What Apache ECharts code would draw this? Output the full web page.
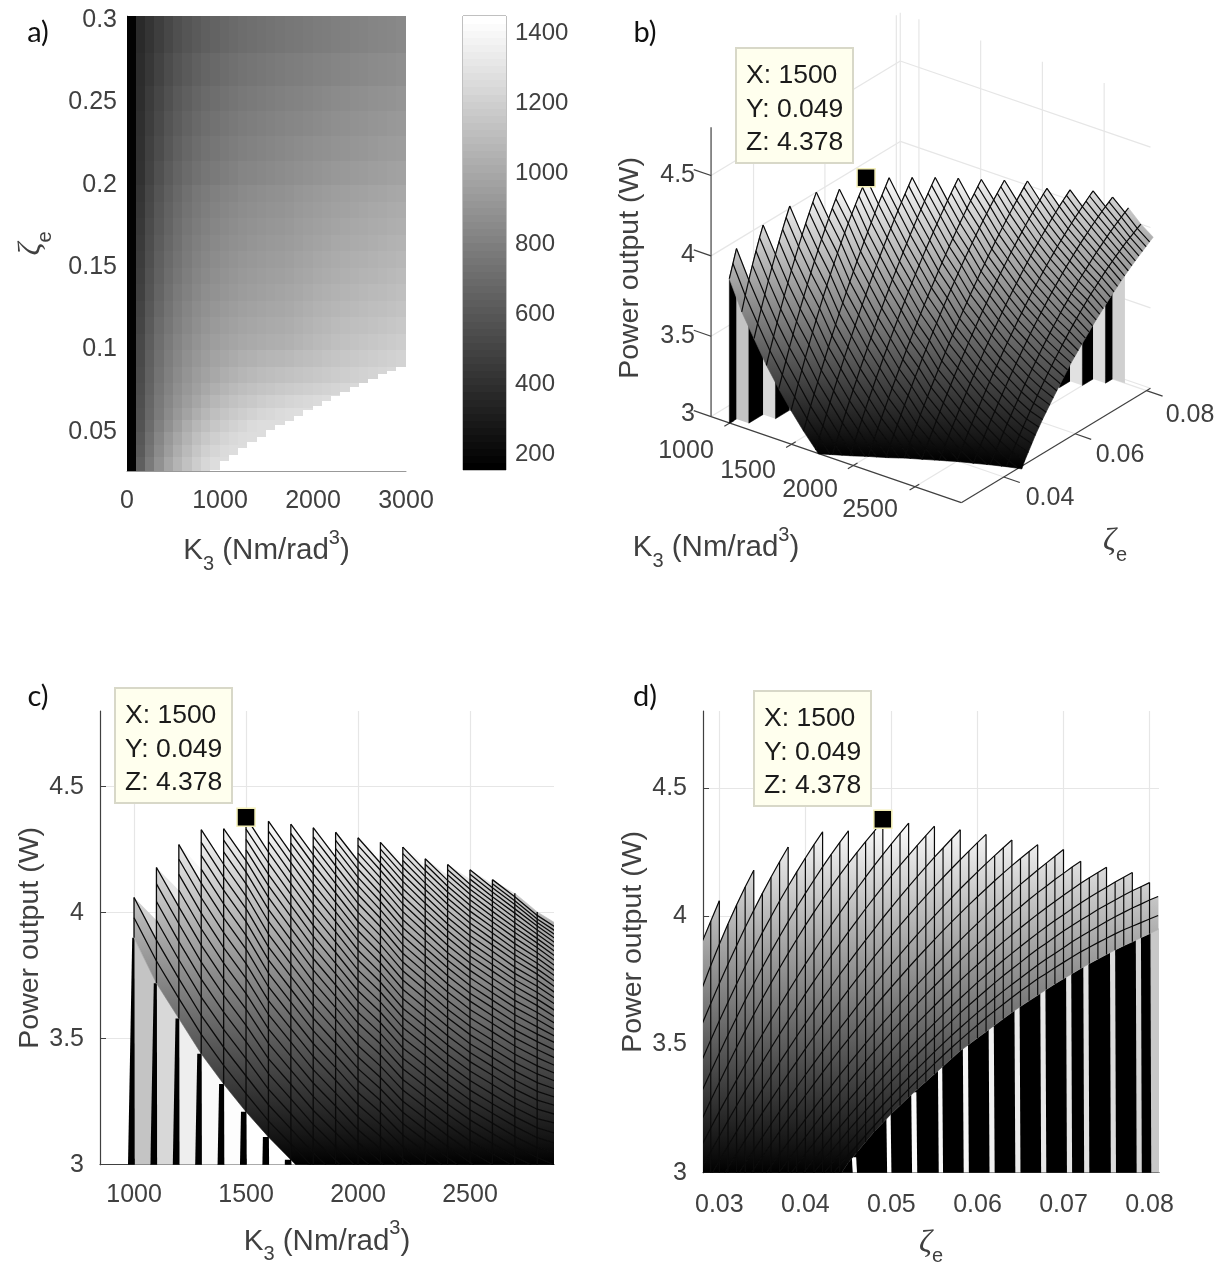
<!DOCTYPE html>
<html><head><meta charset="utf-8"><style>html,body{margin:0;padding:0;background:#fff;overflow:hidden}#c{width:1222px;height:1269px}</style>
<script src="https://cdn.jsdelivr.net/npm/echarts@6/dist/echarts.min.js"></script></head><body><div id="c"></div>
<script>
// ---------- panel a: heat map ----------
const heatKStep = 100;
const heatEdges = [.0263,.035,.0425,.05,.0575,.065,.0725,.08,.09,.10,.11,.12,.13,.14,.15,.16,.17,.18,.19,.20,.215,.23,.245,.26,.28,.3024];
const heatValues = [
[160,637,774,891,993,1069,1136,1197,1247,1280,1280],
[160,612,745,860,955,1035,1100,1160,1210,1245,1270,1280,1280,1280],
[160,595,722,835,925,1000,1065,1125,1170,1205,1235,1260,1275,1280,1280],
[160,578,700,805,888,960,1030,1085,1125,1165,1195,1220,1245,1270,1280,1280,1280,1280],
[160,566,685,782,860,925,985,1040,1085,1125,1155,1180,1200,1222,1240,1255,1270,1280,1285,1285,1285],
[160,555,672,767,840,900,952,1000,1045,1085,1115,1140,1160,1178,1195,1210,1222,1235,1248,1260,1270,1280,1285,1285],
[160,545,660,752,822,880,928,970,1008,1045,1075,1100,1120,1135,1150,1163,1175,1187,1198,1208,1218,1228,1237,1247,1256,1265,1275,1285,1290,1295],
[160,535,648,738,806,860,905,945,980,1010,1037,1060,1080,1095,1108,1120,1130,1140,1152,1163,1173,1183,1193,1203,1212,1222,1232,1242,1252,1262],
[160,527,637,724,790,842,885,922,955,982,1005,1025,1042,1055,1067,1078,1087,1097,1110,1122,1133,1144,1155,1165,1175,1185,1195,1205,1215,1225],
[165,520,627,713,774,825,866,902,932,958,978,993,1008,1019,1029,1039,1044,1054,1069,1085,1100,1110,1125,1136,1146,1156,1166,1176,1186,1197],
[165,507,612,696,756,807,848,883,912,938,958,973,988,999,1009,1019,1024,1034,1049,1064,1079,1089,1103,1113,1123,1133,1143,1152,1162,1173],
[165,493,597,679,739,789,829,864,893,918,938,953,968,979,989,999,1005,1015,1029,1043,1057,1067,1081,1091,1101,1110,1120,1128,1138,1148],
[165,481,583,663,723,772,812,847,875,899,919,934,950,960,970,980,987,997,1011,1024,1038,1048,1061,1070,1080,1088,1098,1107,1117,1126],
[165,468,569,648,706,755,796,829,857,881,901,916,931,942,952,962,969,979,992,1005,1018,1028,1041,1049,1060,1067,1077,1085,1095,1103],
[165,458,557,635,693,741,782,815,842,866,886,901,916,927,937,947,954,964,977,990,1002,1012,1024,1032,1043,1050,1060,1067,1077,1085],
[165,447,544,621,678,726,767,799,826,849,869,884,899,910,920,930,938,948,960,973,984,994,1006,1013,1024,1031,1041,1047,1057,1064],
[165,437,533,608,665,713,753,785,811,834,854,869,884,895,905,915,923,933,945,957,968,978,990,996,1007,1013,1023,1029,1039,1046],
[165,427,522,595,652,699,739,771,797,819,839,854,869,880,890,900,909,919,930,941,952,962,973,979,990,996,1006,1012,1022,1028],
[165,417,511,582,639,685,725,757,782,803,823,838,854,864,874,884,893,903,915,925,936,946,957,962,973,978,988,994,1004,1009],
[165,404,492,561,616,661,700,731,756,777,797,812,828,838,848,858,868,878,888,898,908,918,928,933,944,949,959,964,973,979],
[165,397,478,543,597,641,679,708,733,754,774,789,805,815,825,835,845,855,865,875,885,894,904,909,919,924,934,940,948,955],
[165,391,465,527,579,623,658,687,712,733,753,768,784,794,804,814,824,834,843,853,863,871,881,886,897,902,912,917,925,932],
[165,385,452,512,562,605,639,667,692,713,733,748,764,774,784,794,804,814,822,832,842,850,860,865,875,880,890,896,903,911],
[165,377,436,491,540,582,614,641,666,686,707,722,737,748,758,768,778,788,794,805,815,821,831,836,846,851,861,867,873,882],
[165,368,418,469,515,556,586,612,637,657,678,693,708,719,729,739,749,759,764,775,785,790,800,805,815,820,830,836,841,851]
];
const whiteStartK = 900;
const whiteTop = [.0268,.0320,.0356,.0397,.0437,.0468,.0507,.0538,.0562,.0596,.0628,.0657,.0687,.0718,.0738,.0767,.0795,.0819,.0847,.0868,.0890];
const colorbarTicks = [200,400,600,800,1000,1200,1400];

// ---------- panels b,c,d: surface, one array per K; first value at zeta = zetaFirst, step zetaStep ----------
const zetaFirst = .028, zetaStep = .001;
const kValues = [1000,1100,1200,1300,1400,1500,1600,1700,1800,1900,2000,2100,2200,2300,2400,2500,2600,2700,2800,2900];
const P1000=[3.9,3.98,4.06];
const P1100=[3.72,3.808,3.891,3.97,4.044,4.114,4.179];
const P1200=[3.58,3.66,3.738,3.813,3.885,3.956,4.023,4.089,4.152,4.212,4.27];
const P1300=[3.44,3.517,3.592,3.665,3.736,3.804,3.871,3.936,3.998,4.059,4.117,4.173,4.227,4.279,4.329];
const P1400=[3.32,3.394,3.466,3.537,3.605,3.672,3.737,3.8,3.861,3.921,3.979,4.035,4.089,4.141,4.192,4.241,4.288,4.333];
const P1500=[3.21,3.282,3.352,3.421,3.488,3.553,3.617,3.679,3.739,3.798,3.855,3.91,3.964,4.016,4.066,4.114,4.161,4.206,4.249,4.291,4.331,4.378];
const P1600=[3.11,3.174,3.238,3.3,3.361,3.421,3.481,3.539,3.596,3.651,3.706,3.76,3.813,3.864,3.915,3.965,4.013,4.061,4.107,4.152,4.197,4.24,4.282,4.323,4.363];
const P1700=[3.02,3.082,3.142,3.202,3.261,3.319,3.375,3.431,3.486,3.54,3.593,3.645,3.697,3.747,3.796,3.845,3.892,3.939,3.984,4.029,4.072,4.115,4.157,4.198,4.237,4.276,4.314,4.351];
const P1800=[2.93,2.989,3.047,3.104,3.16,3.216,3.271,3.324,3.377,3.43,3.481,3.532,3.581,3.63,3.679,3.726,3.773,3.818,3.863,3.907,3.95,3.993,4.034,4.075,4.115,4.154,4.192,4.23,4.266,4.302,4.337];
const P1900=[2.85,2.907,2.963,3.019,3.073,3.127,3.18,3.233,3.284,3.335,3.385,3.434,3.483,3.53,3.577,3.623,3.668,3.713,3.757,3.799,3.842,3.883,3.924,3.964,4.003,4.041,4.078,4.115,4.151,4.186,4.22,4.254,4.287,4.319];
const P2000=[2.77,2.825,2.879,2.932,2.985,3.037,3.088,3.139,3.189,3.238,3.286,3.334,3.381,3.427,3.473,3.518,3.562,3.605,3.648,3.69,3.731,3.772,3.812,3.851,3.89,3.928,3.965,4.001,4.037,4.072,4.107,4.14,4.173,4.205,4.236,4.267,4.297];
const P2100=[2.7,2.754,2.807,2.86,2.912,2.963,3.013,3.063,3.112,3.16,3.208,3.255,3.301,3.346,3.391,3.435,3.479,3.521,3.563,3.605,3.645,3.685,3.724,3.762,3.8,3.837,3.873,3.909,3.944,3.978,4.011,4.044,4.076,4.107,4.138,4.168,4.197,4.225,4.252,4.279];
const P2200=[2.63,2.682,2.733,2.783,2.833,2.882,2.93,2.978,3.025,3.072,3.118,3.163,3.208,3.252,3.296,3.338,3.381,3.422,3.463,3.504,3.544,3.583,3.621,3.659,3.696,3.733,3.769,3.804,3.839,3.873,3.907,3.94,3.972,4.004,4.035,4.065,4.095,4.124,4.152,4.18,4.207,4.234,4.26];
const P2300=[2.56,2.612,2.663,2.714,2.763,2.813,2.862,2.909,2.957,3.004,3.05,3.095,3.139,3.183,3.227,3.269,3.311,3.352,3.393,3.433,3.472,3.51,3.548,3.585,3.622,3.658,3.694,3.728,3.762,3.795,3.828,3.86,3.891,3.922,3.952,3.981,4.01,4.037,4.065,4.092,4.117,4.143,4.167,4.192,4.214];
const P2400=[2.5,2.551,2.602,2.652,2.702,2.75,2.798,2.845,2.892,2.938,2.984,3.028,3.072,3.115,3.158,3.2,3.241,3.282,3.321,3.361,3.399,3.437,3.475,3.512,3.548,3.583,3.617,3.651,3.685,3.717,3.75,3.781,3.811,3.841,3.871,3.9,3.928,3.955,3.981,4.008,4.033,4.057,4.082,4.105,4.128,4.15,4.17,4.191];
const P2500=[2.44,2.491,2.542,2.591,2.641,2.689,2.737,2.784,2.83,2.876,2.921,2.966,3.009,3.052,3.094,3.137,3.178,3.218,3.257,3.296,3.334,3.372,3.409,3.445,3.48,3.516,3.549,3.583,3.616,3.649,3.68,3.711,3.742,3.771,3.8,3.828,3.855,3.882,3.908,3.934,3.959,3.983,4.006,4.029,4.051,4.073,4.093,4.113,4.133,4.152,4.17];
const P2600=[2.39,2.441,2.491,2.542,2.59,2.639,2.686,2.733,2.779,2.825,2.87,2.914,2.957,3.001,3.043,3.084,3.124,3.165,3.204,3.242,3.28,3.318,3.355,3.39,3.426,3.46,3.494,3.527,3.56,3.591,3.623,3.653,3.682,3.711,3.74,3.768,3.794,3.82,3.847,3.872,3.895,3.919,3.942,3.964,3.985,4.005,4.026,4.045,4.063,4.082,4.099,4.115,4.131];
const P2700=[2.34,2.39,2.441,2.491,2.54,2.589,2.635,2.683,2.729,2.775,2.819,2.862,2.906,2.949,2.992,3.032,3.072,3.112,3.152,3.191,3.227,3.264,3.3,3.336,3.371,3.405,3.438,3.471,3.503,3.535,3.565,3.595,3.624,3.652,3.681,3.708,3.734,3.759,3.784,3.81,3.833,3.855,3.877,3.9,3.921,3.94,3.96,3.979,3.998,4.015,4.032,4.047,4.063,4.077];
const P2800=[2.29,2.342,2.393,2.443,2.493,2.542,2.589,2.637,2.684,2.73,2.774,2.818,2.862,2.905,2.947,2.988,3.029,3.068,3.107,3.146,3.183,3.22,3.256,3.291,3.326,3.36,3.392,3.425,3.457,3.488,3.518,3.547,3.576,3.604,3.631,3.657,3.683,3.708,3.732,3.756,3.777,3.799,3.82,3.841,3.861,3.879,3.897,3.914,3.931,3.947,3.961,3.975,3.989,4.003];
const P2900=[2.2,2.25,2.3,2.35,2.4,2.45,2.5,2.55,2.6,2.65,2.7,2.75,2.8,2.85,2.9,2.945,2.99,3.04,3.08,3.12,3.16,3.195,3.23,3.262,3.294,3.325,3.355,3.385,3.415,3.445,3.475,3.5,3.525,3.55,3.575,3.6,3.625,3.648,3.67,3.692,3.714,3.736,3.756,3.776,3.796,3.815,3.833,3.851,3.868,3.885,3.9,3.916,3.932,3.948];
const power = [P1000,P1100,P1200,P1300,P1400,P1500,P1600,P1700,P1800,P1900,P2000,P2100,P2200,P2300,P2400,P2500,P2600,P2700,P2800,P2900];
const tip = {K:1500, zeta:.049, P:4.378};
const curtainGray = [195,216,238,250,255,255,253,251,249,246,241,237,233,229,225,220,208];
// panel c: the strips hanging below the K columns
const cStripK = [1000,1100,1200,1300,1400,1500,1600,1700];
const cStripGray = [196,216,238,250,253,255,255,255];
// panel d: the pale strips between the black ones
const dBarLeft  = [.0455,.0495,.0524,.0555,.0584,.0614,.0644,.0674,.0704,.0724,.0755,.0785,.0802];
const dBarRight = [.0460,.0500,.0530,.0560,.0590,.0620,.0650,.0680,.0710,.0730,.0761,.0791,.0815];
const dBarGray  = [255,255,250,248,245,240,235,232,228,225,220,212,200];
const dBlackStart = .0442;

// ---------- layout ----------
const TXT='#404040', FONT='Liberation Sans', GRID='#e6e6e6';
const b0={K0:849,K1:2875,Z0:.0281,Z1:.0811,P0:3,P1:4.8};
function project(K,zeta,p){return [729.7+.1235*(K-1000)+3570*(zeta-.0281), 423+.0425*(K-1000)-2160*(zeta-.0281)-160.7*(p-3)];}
const grayHex=v=>{v=Math.max(0,Math.min(255,Math.round(v)));const h=v.toString(16).padStart(2,'0');return '#'+h+h+h;};
const surfGray=p=>grayHex((p-3)/1.378*255);
const zetaAt=j=>zetaFirst+j*zetaStep;

function clipPoly(pts){ // pts [K,zeta,P], keeps P>=3
  const out=[];
  for(let i=0;i<pts.length;i++){const a=pts[i],b=pts[(i+1)%pts.length];
    const ia=a[2]>=3, ib=b[2]>=3;
    if(ia) out.push(a);
    if(ia!==ib){const t=(3-a[2])/(b[2]-a[2]);out.push([a[0]+t*(b[0]-a[0]),a[1]+t*(b[1]-a[1]),3]);}
  }
  return out;
}
function clipLine(pts){
  const res=[];let cur=[];
  for(let i=0;i<pts.length;i++){const a=pts[i],b=pts[i+1];
    if(a[2]>=3) cur.push(a);
    if(b&&(a[2]>=3)!==(b[2]>=3)){const t=(3-a[2])/(b[2]-a[2]);const m=[a[0]+t*(b[0]-a[0]),a[1]+t*(b[1]-a[1]),3];
      cur.push(m); if(a[2]>=3){res.push(cur);cur=[];}}
  }
  if(cur.length>1)res.push(cur);
  return res;
}
// surface facets + mesh in 3-D data terms
const facets=[], wedges=[], meshLines=[];
for(let i=0;i<kValues.length-1;i++){
  const n=Math.min(power[i].length,power[i+1].length);
  // unmeshed pale wedge just past the last point of a column (seen in panel c)
  if(power[i+1].length>n){
    const j=n-1;
    wedges.push([[kValues[i],zetaAt(j),power[i][j]],[kValues[i+1],zetaAt(j),power[i+1][j]],[kValues[i+1],zetaAt(j+1),power[i+1][j+1]]]);
  }
  for(let j=n-2;j>=0;j--){
    const q=clipPoly([[kValues[i],zetaAt(j),power[i][j]],[kValues[i+1],zetaAt(j),power[i+1][j]],[kValues[i+1],zetaAt(j+1),power[i+1][j+1]],[kValues[i],zetaAt(j+1),power[i][j+1]]]);
    if(q.length>2)facets.push(q);
  }
}
for(let i=0;i<kValues.length-1;i++){
  clipLine(power[i].map((p,j)=>[kValues[i],zetaAt(j),p])).forEach(l=>meshLines.push(l));
}
for(let j=1;j<53;j++){
  const row=[];
  for(let i=0;i<kValues.length;i++){ if(power[i].length>j) row.push([kValues[i],zetaAt(j),power[i][j]]); }
  if(row.length>1) clipLine(row).forEach(l=>meshLines.push(l));
}
function facetStyle(q){
  let hi=-9,lo=9;q.forEach(v=>{hi=Math.max(hi,v[2]);lo=Math.min(lo,v[2]);});
  const g={type:'linear',x:0,y:0,x2:0,y2:1,colorStops:[{offset:0,color:surfGray(hi)},{offset:1,color:surfGray(lo)}]};
  return {fill:g,stroke:g,lineWidth:.6};
}
function polySeries(ax,polys,kind){
  return {type:'custom',xAxisIndex:ax,yAxisIndex:ax,clip:true,silent:true,animation:false,
    encode:{x:0,y:1},
    data:polys.map(p=>[p.pts[0][0],p.pts[0][1]]),
    renderItem:(params,api)=>{const p=polys[params.dataIndex];
      return {type:kind||'polygon',shape:{points:p.pts.map(v=>api.coord(v))},style:p.style};}};
}
const view={b:v=>project(v[0],v[1],v[2]),c:v=>[v[0],v[2]],d:v=>[v[1],v[2]]};
const AX={a:0,bar:1,c:2,d:3,b:4};
const meshWidth={b:1.2,c:1.3,d:1.2};
function surfaceSeries(name){
  const f=view[name], ax=AX[name];
  return [polySeries(ax,facets.map(q=>({pts:q.map(f),style:facetStyle(q)}))),
          polySeries(ax,meshLines.map(l=>({pts:l.map(f),style:{fill:null,stroke:'#0a0a0a',lineWidth:meshWidth[name]}})),'polyline')];
}
// ---- curtains b
const bCurt=[];
for(let i=0;i<=16;i++){
  const top=power[i].length-1, from=i===0?0:power[i-1].length-1;
  if(top>from){const pts=[];
    pts.push([kValues[i],zetaAt(from),3],[kValues[i],zetaAt(top),3]);
    for(let j=top;j>=from;j--)pts.push([kValues[i],zetaAt(j),power[i][j]]);
    bCurt.push({pts:pts.map(view.b),style:{fill:'#000',stroke:'#000',lineWidth:.5}});}
  const nxt=power[i+1][top];
  bCurt.push({pts:[[kValues[i],zetaAt(top),3],[kValues[i+1],zetaAt(top),3],[kValues[i+1],zetaAt(top),Math.max(nxt,3)],[kValues[i],zetaAt(top),power[i][top]]].map(view.b),style:{fill:grayHex(curtainGray[i]),stroke:null}});
}
// ---- curtains c
const cCurt=[];
cStripK.forEach((K,s)=>{
  const i=kValues.indexOf(K), low=power[i][0], lowN=power[i+1][0];
  const topLeft=K-27+21*(low-3);
  cCurt.push({pts:[[K+3,3],[K+73,3],[K+100,lowN],[K,low]],style:{fill:grayHex(cStripGray[s]),stroke:null}});
  cCurt.push({pts:[[K-27,3],[K+3,3],[K+2,low],[topLeft,low]],style:{fill:'#000',stroke:null}});
});
const cWedges=wedges.map(q=>{
  let hi=-9;q.forEach(v=>hi=Math.max(hi,v[2]));
  return {pts:q.map(view.c),style:{fill:grayHex((hi-3)/1.378*255+12),stroke:null}};
});
// ---- curtains d
const dCurt=[];
{const edge=P2900.map((p,j)=>[zetaAt(j),p]).filter(v=>v[0]>=dBlackStart-1e-9);
 dCurt.push({pts:[[dBlackStart,3],...edge,[edge[edge.length-1][0],3]],style:{fill:'#000',stroke:null}});
 dBarLeft.forEach((L,s)=>{const R=dBarRight[s];const jj=Math.min(53,Math.round((L-zetaFirst)/zetaStep));
   const t=P2900[jj]+.02;
   dCurt.push({pts:[[L,3],[R,3],[R-.0001,t],[L-.0001,t]],style:{fill:grayHex(dBarGray[s]),stroke:null}});});
}
// ---- box of b
const bGridPolys=[], bAxisPolys=[];
const gl=(a,b)=>bGridPolys.push({pts:[project(...a),project(...b)],style:{fill:null,stroke:GRID,lineWidth:1.2}});
const al=(a,b)=>bAxisPolys.push({pts:[project(...a),project(...b)],style:{fill:null,stroke:'#404040',lineWidth:1.2}});
const bK=[1000,1500,2000,2500], bP=[3,3.5,4,4.5];
bP.forEach(p=>{gl([b0.K0,b0.Z0,p],[b0.K0,b0.Z1,p]);gl([b0.K0,b0.Z1,p],[b0.K1,b0.Z1,p]);});
[.04,.06,.08].forEach(z=>{gl([b0.K0,z,3],[b0.K0,z,4.8]);gl([b0.K0,z,3],[b0.K1,z,3]);});
bK.forEach(K=>{gl([K,b0.Z1,3],[K,b0.Z1,4.8]);gl([K,b0.Z0,3],[K,b0.Z1,3]);});
gl([b0.K0,b0.Z1,3],[b0.K0,b0.Z1,4.8]);
al([b0.K0,b0.Z0,3],[b0.K0,b0.Z0,4.8]);al([b0.K0,b0.Z0,3],[b0.K1,b0.Z0,3]);al([b0.K1,b0.Z0,3],[b0.K1,b0.Z1,3]);
bP.forEach(p=>al([b0.K0-140,b0.Z0,p],[b0.K0,b0.Z0,p]));
bK.forEach(K=>al([K,b0.Z0-.0015,3],[K,b0.Z0+.0012,3]));
[.04,.06,.08].forEach(z=>al([b0.K1,z,3],[b0.K1+130,z,3]));

// ---------- heat map cells ----------
const cells=[];
heatValues.forEach((row,r)=>row.forEach((v,c)=>cells.push([c*heatKStep,heatEdges[r],(c+1)*heatKStep,heatEdges[r+1],v])));
const cbMin=154,cbMax=1451;
const heatCol=v=>grayHex((v-cbMin)/(cbMax-cbMin)*255);
const rectSeries=(ax,data,colorOf)=>({type:'custom',xAxisIndex:ax,yAxisIndex:ax,clip:true,silent:true,animation:false,encode:{x:0,y:1},data,
  renderItem:(params,api)=>{const a=api.coord([api.value(0),api.value(1)]),b=api.coord([api.value(2),api.value(3)]);
    const x=Math.floor(a[0]),y=Math.floor(b[1]);
    return {type:'rect',shape:{x,y,width:Math.ceil(b[0])-x,height:Math.ceil(a[1])-y},style:{fill:colorOf(api.value(4))}};}});
const whiteCells=whiteTop.map((t,i)=>[whiteStartK+i*heatKStep,.0263,whiteStartK+(i+1)*heatKStep,t,1]);
const barCells=[];for(let i=0;i<64;i++){const a=cbMin+(cbMax-cbMin)*i/64,b=cbMin+(cbMax-cbMin)*(i+1)/64;barCells.push([0,a,1,b,i/63*255]);}

// ---------- axes ----------
const labelStyle={color:TXT,fontFamily:FONT,fontSize:25};
const rich={n:{fontFamily:FONT,fontSize:29.5,color:TXT,lineHeight:46,verticalAlign:'middle'},
  sub:{fontFamily:FONT,fontSize:20,color:TXT,lineHeight:46,verticalAlign:'bottom'},
  sup:{fontFamily:FONT,fontSize:20,color:TXT,lineHeight:46,verticalAlign:'top'},
  g:{fontFamily:'Liberation Serif',fontStyle:'italic',fontSize:32,color:TXT,lineHeight:46,verticalAlign:'middle'}};
const K3NAME='{n|K}{sub|3}{n| (Nm/rad}{sup|3}{n|)}', ZNAME='{g|ζ}{sub|e}';
function valAxis(o){return Object.assign({type:'value',scale:true,axisLine:{show:true,onZero:false,lineStyle:{color:'#404040',width:1.2}},
  axisTick:{show:true,inside:true,length:6,lineStyle:{color:'#404040'}},axisLabel:{show:true,...labelStyle},splitLine:{show:false}},o);}
function custom(ticks,margin,fmt,extra){return {axisTick:{show:true,inside:true,length:6,lineStyle:{color:'#404040'},customValues:ticks},
  axisLabel:{show:true,...labelStyle,margin,customValues:ticks,formatter:fmt},splitLine:{show:true,lineStyle:{color:GRID,width:1.2}},...(extra||{})};}
const fmtPlain=v=>String(+v.toFixed(3));

const axisP=custom([3,3.5,4,4.5],16,fmtPlain);
axisP.axisLabel.padding=[5,0,0,0];
const PW={fontFamily:FONT,fontSize:28.5,color:TXT};
const grids=[
 {left:127,top:16,width:279,height:455,outerBoundsMode:'none'},
 {left:463,top:16,width:43,height:454,show:true,borderColor:'#808080',borderWidth:1,outerBoundsMode:'none'},
 {left:100,top:711,width:454,height:453.7,outerBoundsMode:'none'},
 {left:703,top:711,width:456,height:461.7,outerBoundsMode:'none'},
 {left:0,top:0,width:1222,height:1269,outerBoundsMode:'none'}
];
const xAxes=[
 valAxis({gridIndex:0,min:0,max:3000,interval:1000,axisLine:{onZero:false,lineStyle:{color:'#999'}},axisTick:{show:false},axisLabel:{...labelStyle,margin:18,formatter:fmtPlain},name:K3NAME,nameLocation:'middle',nameGap:57,nameTextStyle:{rich}}),
 {type:'value',gridIndex:1,min:0,max:1,show:false},
 valAxis({gridIndex:2,min:848,max:2875,...custom([1000,1500,2000,2500],18,fmtPlain),name:K3NAME,nameLocation:'middle',nameGap:54,nameTextStyle:{rich}}),
 valAxis({gridIndex:3,min:.0281,max:.0811,...custom([.03,.04,.05,.06,.07,.08],20,fmtPlain),name:ZNAME,nameLocation:'middle',nameGap:48,nameTextStyle:{rich}}),
 {type:'value',gridIndex:4,min:0,max:1222,show:false}
];
const yAxes=[
 valAxis({gridIndex:0,min:.0263,max:.3024,axisLine:{onZero:false,lineStyle:{color:'#999'}},axisTick:{show:false},axisLabel:{...labelStyle,margin:10,padding:[4,0,0,0],customValues:[.05,.1,.15,.2,.25,.3],formatter:fmtPlain},name:ZNAME,nameLocation:'middle',nameRotate:90,nameGap:72,nameTextStyle:{rich}}),
 valAxis({gridIndex:1,min:cbMin,max:cbMax,position:'right',axisLine:{show:false,onZero:false},axisTick:{show:true,inside:true,length:4,lineStyle:{color:'#555'},customValues:colorbarTicks},axisLabel:{...labelStyle,fontSize:24,margin:9,padding:[3,0,0,0],customValues:colorbarTicks,formatter:fmtPlain}}),
 valAxis({gridIndex:2,min:3,max:4.8,...axisP,name:'Power output (W)',nameLocation:'middle',nameRotate:90,nameGap:55,nameTextStyle:PW}),
 valAxis({gridIndex:3,min:3,max:4.8,...axisP,name:'Power output (W)',nameLocation:'middle',nameRotate:90,nameGap:55,nameTextStyle:PW}),
 {type:'value',gridIndex:4,min:0,max:1269,inverse:true,show:false}
];
const markerStyle={symbol:'rect',symbolSize:18,itemStyle:{color:'#000',opacity:1,borderColor:'#f4f0b8',borderWidth:1.5},silent:true,animation:false,z:5};
const series=[
 rectSeries(0,cells,heatCol),
 rectSeries(0,whiteCells,()=>'#fff'),
 rectSeries(1,barCells,v=>grayHex(v)),
 polySeries(4,bGridPolys,'polyline'),
 polySeries(4,bAxisPolys,'polyline'),
 polySeries(4,bCurt),
 ...surfaceSeries('b'),
 polySeries(2,cCurt),
 polySeries(2,cWedges),
 ...surfaceSeries('c'),
 polySeries(3,dCurt),
 ...surfaceSeries('d'),
 {type:'scatter',xAxisIndex:4,yAxisIndex:4,data:[project(tip.K,tip.zeta,tip.P)],...markerStyle},
 {type:'scatter',xAxisIndex:2,yAxisIndex:2,data:[[tip.K,tip.P]],...markerStyle},
 {type:'scatter',xAxisIndex:3,yAxisIndex:3,data:[[tip.zeta,tip.P]],...markerStyle}
];
// ---------- text annotations ----------
const T=(text,x,y,o)=>({type:'text',x,y,z:20,silent:true,style:Object.assign({text,fontFamily:FONT,fontSize:25,fill:TXT,align:'center',verticalAlign:'middle'},o||{})});
function tipBox(x,y){
  const lines=['X: '+tip.K,'Y: '+tip.zeta,'Z: '+tip.P];
  return [{type:'rect',z:19,silent:true,shape:{x,y,width:117,height:115},style:{fill:'#ffffee',stroke:'#d8d8c8',lineWidth:2}},
    ...lines.map((s,i)=>T(s,x+10,y+28+i*33.2,{align:'left',fill:'#1a1a1a',fontSize:26.5}))];
}
const letter={fontFamily:'Lato',fontSize:29,fill:'#111'};
const graphicEls=[
 T('a)',38,33,letter),T('b)',645,33,letter),T('c)',38,697,letter),T('d)',645,697,letter),
 ...tipBox(736,48),...tipBox(115,688),...tipBox(754,691),
 T('4.5',695,175,{align:'right'}),T('4',695,255,{align:'right'}),T('3.5',695,336,{align:'right'}),T('3',695,414,{align:'right'}),
 T('1000',686,451),T('1500',748,471),T('2000',810,490),T('2500',870,510),
 T('0.04',1050,498),T('0.06',1120,455),T('0.08',1190,415),
 {type:'text',x:630,y:268,rotation:Math.PI/2,z:20,silent:true,style:{text:'Power output (W)',fontFamily:FONT,fontSize:28.5,fill:TXT,align:'center',verticalAlign:'middle'}},
 T(K3NAME,716,548,{rich}),T(ZNAME,1115,542,{rich})
];
const chart=echarts.init(document.getElementById('c'),null,{renderer:'canvas',width:1222,height:1269});
chart.setOption({animation:false,backgroundColor:'#fff',grid:grids,xAxis:xAxes,yAxis:yAxes,series,graphic:{elements:graphicEls}});
</script></body></html>
